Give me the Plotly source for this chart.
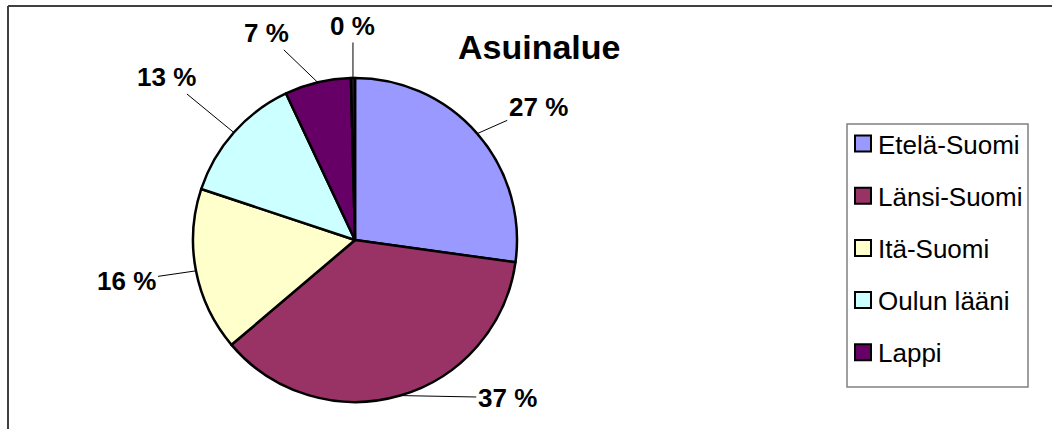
import math
import plotly.graph_objects as go

# Data (percent of respondents)
regions = ['Etelä-Suomi', 'Länsi-Suomi', 'Itä-Suomi', 'Oulun lääni', 'Lappi', 'Ahvenanmaa']
shares = [27.2, 36.6, 16.3, 12.9, 6.6, 0.4]
colors = ['#9999FF', '#993366', '#FFFFCC', '#CCFFFF', '#660066', '#202020']
legend_count = 5  # the last slice has no legend entry

W, H = 1052, 429
cx, cy, r = 355, 240, 162  # pie centre and radius in pixels
FONT = 'Liberation Sans, Arial, sans-serif'

# pixel offset of each percentage label from its slice's rim point
label_offsets = [(61, -27), (107, 2), (-69, 10), (-67, -55), (-51, -49), (0, -52)]

fig = go.Figure()

fig.add_trace(go.Pie(
    labels=regions,
    values=shares,
    sort=False,
    direction='clockwise',
    rotation=0,
    textinfo='none',
    hoverinfo='label+percent',
    marker=dict(colors=colors, line=dict(color='black', width=2.5)),
    domain=dict(x=[(cx - r) / W, (cx + r) / W], y=[1 - (cy + r) / H, 1 - (cy - r) / H]),
    showlegend=False,
))

# percentage labels with leader lines, anchored at each slice's mid angle
total = sum(shares)
start = 0.0
annotations = []
for v, (dx, dy) in zip(shares, label_offsets):
    mid = (start + v / 2) / total * 2 * math.pi
    start += v
    px = cx + r * math.sin(mid)
    py = cy - r * math.cos(mid)
    annotations.append(dict(
        x=px / W, y=1 - py / H, xref='paper', yref='paper',
        text=f'<b>{round(v)} %</b>', showarrow=True, arrowhead=0, arrowwidth=1,
        arrowcolor='black', ax=dx, ay=dy,
        font=dict(family=FONT, size=26, color='black'),
    ))

annotations.append(dict(
    x=539 / W, y=1 - 47 / H, xref='paper', yref='paper', showarrow=False,
    xanchor='center', yanchor='middle',
    text='<b>Asuinalue</b>',
    font=dict(family=FONT, size=34, color='black'),
))

shapes = [
    # chart area border (top and left visible)
    dict(type='line', xref='paper', yref='paper', x0=8 / W, y0=1 - 6 / H, x1=1, y1=1 - 6 / H,
         line=dict(color='#404040', width=2)),
    dict(type='line', xref='paper', yref='paper', x0=8 / W, y0=1 - 6 / H, x1=8 / W, y1=0,
         line=dict(color='#404040', width=2)),
    # legend box
    dict(type='rect', xref='paper', yref='paper', x0=847 / W, y0=1 - 387 / H, x1=1028 / W, y1=1 - 124 / H,
         line=dict(color='#808080', width=1.5), fillcolor='white'),
]

# manual legend
for i in range(legend_count):
    yc = 143.5 + 52.2 * i
    shapes.append(dict(type='rect', xref='paper', yref='paper',
                       x0=855 / W, x1=871 / W, y0=1 - (yc + 8) / H, y1=1 - (yc - 8) / H,
                       fillcolor=colors[i], line=dict(color='black', width=2)))
    annotations.append(dict(x=876 / W, y=1 - (yc + 1) / H, xref='paper', yref='paper', showarrow=False,
                            xanchor='left', yanchor='middle', text=regions[i],
                            font=dict(family=FONT, size=26, color='black')))

fig.update_layout(
    width=W, height=H,
    margin=dict(l=0, r=0, t=0, b=0),
    paper_bgcolor='white',
    plot_bgcolor='white',
    shapes=shapes,
    annotations=annotations,
)

fig.write_html('out.html', config=dict(displayModeBar=False),
               post_script="document.body.style.margin='0px';")
